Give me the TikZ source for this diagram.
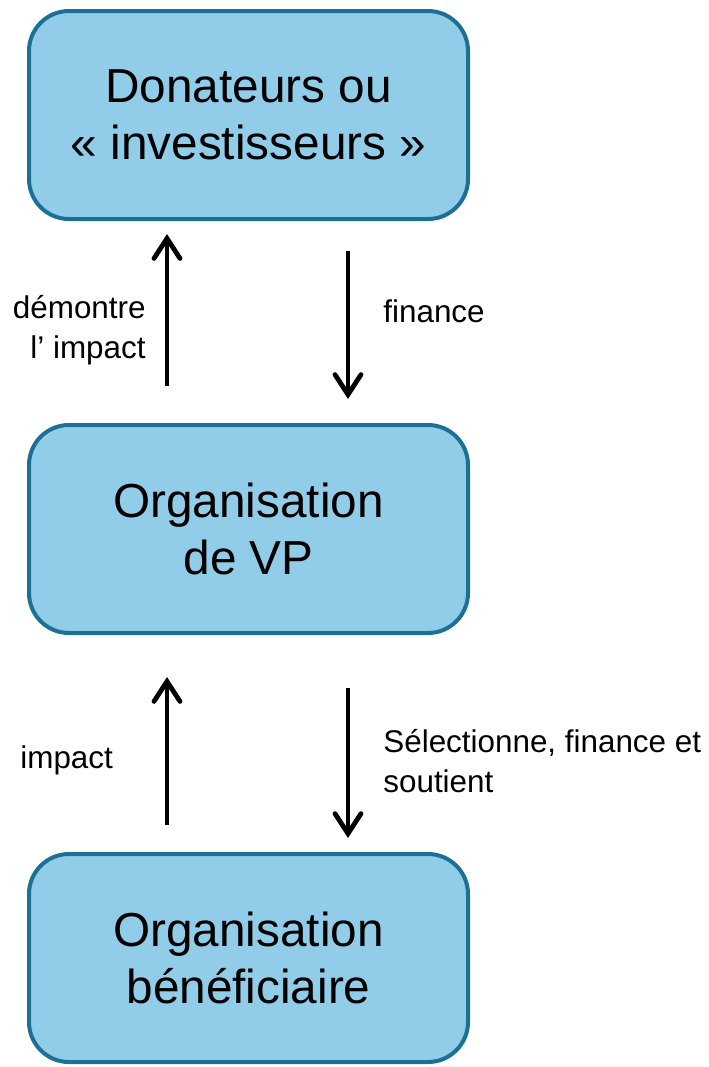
\documentclass[tikz,border=0pt]{standalone}
\usepackage{fontspec}
\setmainfont{Liberation Sans}
\usetikzlibrary{arrows.meta, positioning, calc}
\definecolor{boxfill}{RGB}{145, 204, 232}
\definecolor{boxline}{RGB}{28, 112, 150}

\tikzset{
  flowbox/.style={draw=boxline, fill=boxfill, line width=2pt, rounded corners=20pt,
    minimum width=219.5pt, minimum height=104pt, align=center,
    font=\fontsize{23.85}{28.5}\selectfont},
  flowarrow/.style={line width=2.4pt, -{Straight Barb[length=10pt,width=13pt,line cap=round,line join=miter]}},
  flowlabel/.style={font=\fontsize{15.7}{19.8}\selectfont, inner sep=0pt}
}

\begin{document}
\begin{tikzpicture}[x=0.5pt, y=-0.5pt]
        \useasboundingbox (0,0) rectangle (708,1067);

        % boxes
        \node[flowbox] (donors) at (248.5, 115) {Donateurs ou\\« investisseurs »};
        \node[flowbox] (vporg) at (248.5, 529) {Organisation\\de VP};
        \node[flowbox] (benef) at (248.5, 958) {Organisation\\bénéficiaire};

        % arrows
        \draw[flowarrow] ([xshift=-40.75pt, yshift=18.5pt]vporg.north) -- ([xshift=-40.75pt, yshift=-6.5pt]donors.south);
        \draw[flowarrow] ([xshift=49.75pt, yshift=-15pt]donors.south) -- ([xshift=49.75pt, yshift=12pt]vporg.north);
        \draw[flowarrow] ([xshift=-40.75pt, yshift=13.5pt]benef.north) -- ([xshift=-40.75pt, yshift=-21pt]vporg.south);
        \draw[flowarrow] ([xshift=49.75pt, yshift=-26.5pt]vporg.south) -- ([xshift=49.75pt, yshift=7pt]benef.north);

        % labels
        \node[flowlabel, align=right, anchor=east] (showlbl) at (146, 330) {démontre\\l’ impact};
        \node[flowlabel, anchor=west] (fundlbl) at (383, 311) {finance};
        \node[flowlabel, anchor=west] (impactlbl) at (20, 760) {impact};
        \node[flowlabel, align=left, anchor=west] (selectlbl) at (383, 761) {Sélectionne, finance et\\soutient};

      \end{tikzpicture}
\end{document}
